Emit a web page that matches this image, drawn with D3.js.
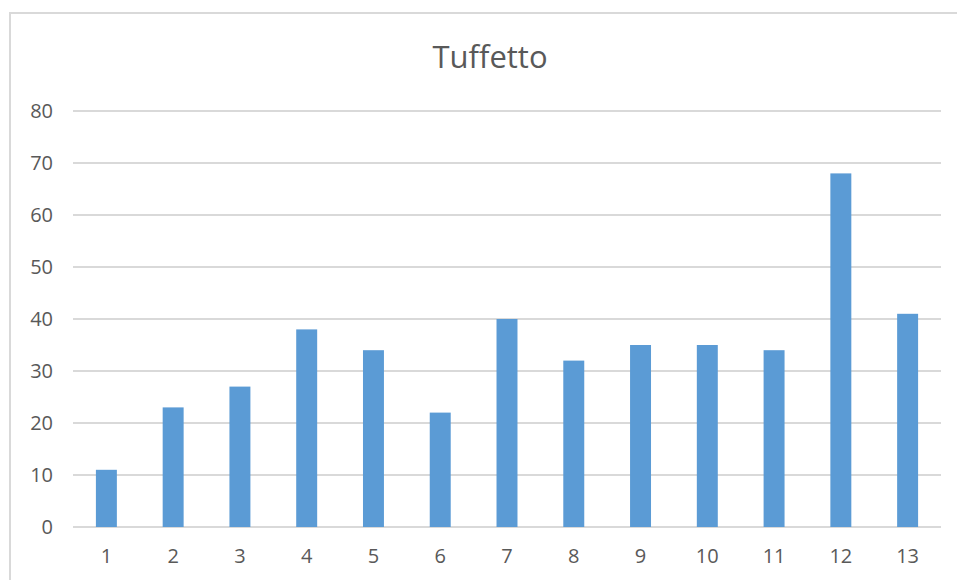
<!DOCTYPE html>
<html>
<head>
<meta charset="utf-8">
<script src="https://cdn.jsdelivr.net/npm/d3@7"></script>
<style>
  html, body { margin: 0; padding: 0; background: #fff; }
  svg { display: block; }
</style>
</head>
<body>
<svg id="chart" width="957" height="580"></svg>
<script>
const title = "Tuffetto";
const categories = ["1","2","3","4","5","6","7","8","9","10","11","12","13"];
const values = [11, 23, 27, 38, 34, 22, 40, 32, 35, 35, 34, 68, 41];
const yTicks = [0, 10, 20, 30, 40, 50, 60, 70, 80];

const svg = d3.select("#chart");
const W = 957, H = 580;
const margin = { left: 73, right: 16, top: 111, bottom: 53 };
const fontFam = "'Open Sans', 'Liberation Sans', sans-serif";

// chart area border
svg.append("rect")
  .attr("x", 10).attr("y", 13)
  .attr("width", 1200).attr("height", 1200)
  .attr("fill", "none").attr("stroke", "#d9d9d9").attr("stroke-width", 2);

const x = d3.scaleBand()
  .domain(categories)
  .range([margin.left, W - margin.right])
  .paddingInner(0.686)
  .paddingOuter(0.343);

const y = d3.scaleLinear()
  .domain([0, 80])
  .range([H - margin.bottom, margin.top]);

// gridlines
svg.append("g")
  .selectAll("line")
  .data(yTicks)
  .join("line")
  .attr("x1", margin.left).attr("x2", W - margin.right)
  .attr("y1", d => Math.round(y(d))).attr("y2", d => Math.round(y(d)))
  .attr("stroke", "#d9d9d9").attr("stroke-width", 2);

// y axis labels
const yAxis = d3.axisLeft(y).tickValues(yTicks).tickSize(0).tickPadding(20);
svg.append("g")
  .attr("transform", `translate(${margin.left},0)`)
  .call(yAxis)
  .call(g => g.select(".domain").remove())
  .call(g => g.selectAll("text")
    .attr("fill", "#595959")
    .style("font-family", fontFam)
    .style("font-size", "20px"));

// bars
svg.append("g")
  .selectAll("rect")
  .data(values)
  .join("rect")
  .attr("x", (d, i) => x(categories[i]))
  .attr("width", x.bandwidth())
  .attr("y", d => y(d))
  .attr("height", d => y(0) - y(d))
  .attr("fill", "#5b9bd5");

// x axis labels
const xAxis = d3.axisBottom(x).tickSize(0).tickPadding(22);
svg.append("g")
  .attr("transform", `translate(0,${y(0)})`)
  .call(xAxis)
  .call(g => g.select(".domain").remove())
  .call(g => g.selectAll("text")
    .attr("fill", "#595959")
    .style("font-family", fontFam)
    .style("font-size", "20px"));

// title
svg.append("text")
  .attr("x", 490)
  .attr("y", 68)
  .attr("text-anchor", "middle")
  .attr("fill", "#595959")
  .style("font-family", fontFam)
  .style("font-size", "31px")
  .text(title);
</script>
</body>
</html>
